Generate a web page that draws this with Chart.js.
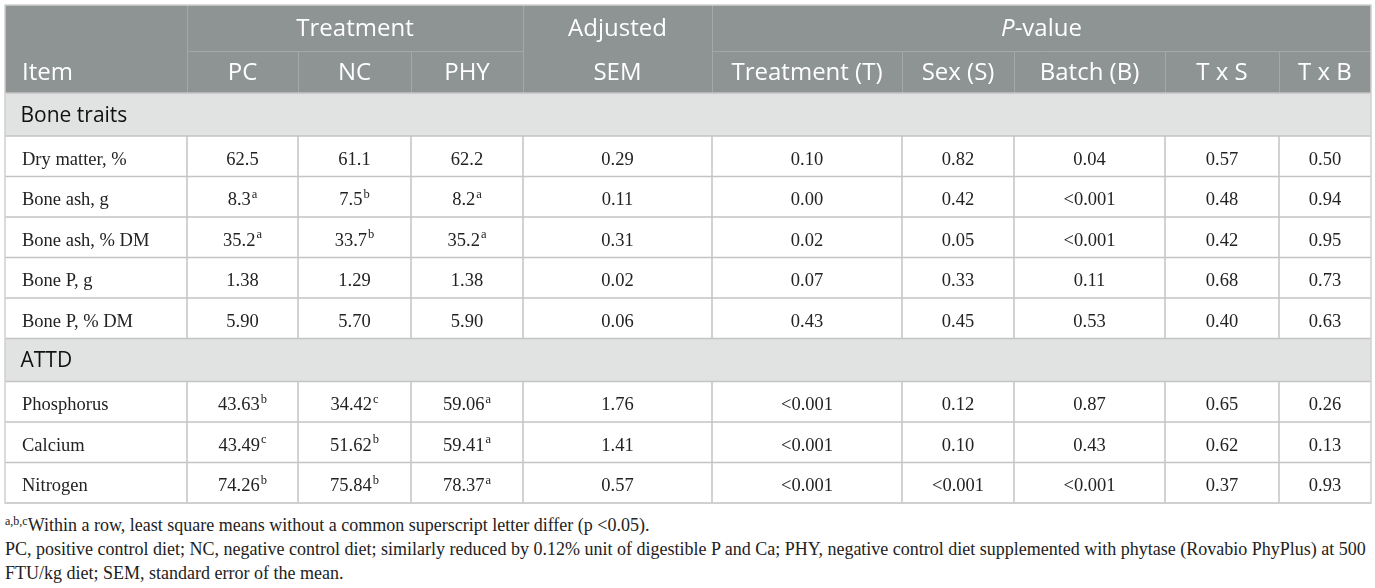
<!DOCTYPE html>
<html>
<head>
<meta charset="utf-8">
<script src="https://cdn.jsdelivr.net/npm/chart.js@4.4.1/dist/chart.umd.min.js"></script>
<style>
  html, body { margin: 0; padding: 0; background: #fff; }
  #wrap { position: relative; width: 1375px; height: 506px; }
  .notes { font-family: "Liberation Serif", serif; font-size: 18px; color: #222; margin: 7px 0 0 5px; line-height: 24px; white-space: nowrap; }
  .notes sup { font-size: 12px; vertical-align: 6px; line-height: 0; }
</style>
</head>
<body>
<div id="wrap"><canvas id="tableChart"></canvas></div>
<div class="notes">
  <div><sup>a,b,c</sup>Within a row, least square means without a common superscript letter differ (p &lt;0.05).</div>
  <div>PC, positive control diet; NC, negative control diet; similarly reduced by 0.12% unit of digestible P and Ca; PHY, negative control diet supplemented with phytase (Rovabio PhyPlus) at 500<br>FTU/kg diet; SEM, standard error of the mean.</div>
</div>
<script>
// table data
const groups = ['Bone traits', 'ATTD'];
const itemGroup = [0, 0, 0, 0, 0, 1, 1, 1];
const items = ['Dry matter, %', 'Bone ash, g', 'Bone ash, % DM', 'Bone P, g', 'Bone P, % DM', 'Phosphorus', 'Calcium', 'Nitrogen'];
const pc = ['62.5', '8.3', '35.2', '1.38', '5.90', '43.63', '43.49', '74.26'];
const pcSup = ['', 'a', 'a', '', '', 'b', 'c', 'b'];
const nc = ['61.1', '7.5', '33.7', '1.29', '5.70', '34.42', '51.62', '75.84'];
const ncSup = ['', 'b', 'b', '', '', 'c', 'b', 'b'];
const phy = ['62.2', '8.2', '35.2', '1.38', '5.90', '59.06', '59.41', '78.37'];
const phySup = ['', 'a', 'a', '', '', 'a', 'a', 'a'];
const sem = ['0.29', '0.11', '0.31', '0.02', '0.06', '1.76', '1.41', '0.57'];
const pTreat = ['0.10', '0.00', '0.02', '0.07', '0.43', '<0.001', '<0.001', '<0.001'];
const pSex = ['0.82', '0.42', '0.05', '0.33', '0.45', '0.12', '0.10', '<0.001'];
const pBatch = ['0.04', '<0.001', '<0.001', '0.11', '0.53', '0.87', '0.43', '<0.001'];
const pTxS = ['0.57', '0.48', '0.42', '0.68', '0.40', '0.65', '0.62', '0.37'];
const pTxB = ['0.50', '0.94', '0.95', '0.73', '0.63', '0.26', '0.13', '0.93'];

const colLabels = ['Item', 'PC', 'NC', 'PHY', 'SEM', 'Treatment (T)', 'Sex (S)', 'Batch (B)', 'T x S', 'T x B'];

// layout (not data)
const colWidths = [182, 111, 113, 112, 189, 190, 112, 151, 114, 92];
const rowHeight = { head1: 46, head2: 42, section: 43, data: 40.5 };
const HEAD_BG = '#8e9394', HEAD_LINE = '#a4a8a9', SECTION_BG = '#e1e3e2', GRID = '#c4c4c4';
const SANS = '"Open Sans", sans-serif', SERIF = '"Liberation Serif", serif';

const colEdges = [0];
colWidths.forEach(w => colEdges.push(colEdges[colEdges.length - 1] + w));
const totalW = colEdges[colEdges.length - 1];

// build row list: two header rows, then section + data rows
const rows = [{ kind: 'head1' }, { kind: 'head2' }];
groups.forEach((g, gi) => {
  rows.push({ kind: 'section', label: g });
  items.forEach((it, i) => { if (itemGroup[i] === gi) rows.push({ kind: 'data', idx: i }); });
});
let acc = 0;
rows.forEach(r => { r.top = acc; acc += rowHeight[r.kind]; r.bottom = acc; r.mid = (r.top + r.bottom) / 2; });
const totalH = acc;

const columns = [
  { text: items, sup: null },
  { text: pc, sup: pcSup },
  { text: nc, sup: ncSup },
  { text: phy, sup: phySup },
  { text: sem, sup: null },
  { text: pTreat, sup: null },
  { text: pSex, sup: null },
  { text: pBatch, sup: null },
  { text: pTxS, sup: null },
  { text: pTxB, sup: null }
];

const dataRows = rows.filter(r => r.kind === 'data');
const datasets = columns.map((c, ci) => ({
  label: colLabels[ci],
  data: dataRows.map(r => ({
    x: ci === 0 ? colEdges[0] + 17 : (colEdges[ci] + colEdges[ci + 1]) / 2,
    y: r.mid,
    t: c.text[r.idx],
    s: c.sup ? c.sup[r.idx] : ''
  })),
  pointRadius: 0,
  showLine: false
}));

function drawWithSup(ctx, x, y, main, sup, align, font, supFont) {
  ctx.font = font;
  const w1 = ctx.measureText(main).width;
  ctx.font = supFont;
  const w2 = sup ? ctx.measureText(sup).width + 1 : 0;
  let start = align === 'left' ? x : x - (w1 + w2) / 2;
  ctx.textAlign = 'left';
  ctx.textBaseline = 'middle';
  ctx.font = font;
  ctx.fillText(main, start, y);
  if (sup) {
    ctx.font = supFont;
    ctx.fillText(sup, start + w1 + 1, y - 6);
  }
}

const tablePlugin = {
  id: 'tablePlugin',
  beforeDatasetsDraw(chart) {
    const { ctx, scales: { x, y } } = chart;
    const px = v => x.getPixelForValue(v);
    const py = v => y.getPixelForValue(v);
    const L = px(0), R = px(totalW);
    ctx.save();
    rows.forEach(r => {
      const t = py(r.top), b = py(r.bottom);
      if (r.kind === 'head1' || r.kind === 'head2') ctx.fillStyle = HEAD_BG;
      else if (r.kind === 'section') ctx.fillStyle = SECTION_BG;
      else ctx.fillStyle = '#fff';
      ctx.fillRect(L, t, R - L, b - t);
    });
    // header lines
    ctx.strokeStyle = HEAD_LINE;
    ctx.lineWidth = 1;
    const hTop = py(rows[0].top), hMid = py(rows[1].top), hBot = py(rows[1].bottom);
    ctx.beginPath();
    [1, 4, 5].forEach(ci => { ctx.moveTo(px(colEdges[ci]) + 0.5, hTop); ctx.lineTo(px(colEdges[ci]) + 0.5, hBot); });
    [2, 3, 6, 7, 8, 9].forEach(ci => { ctx.moveTo(px(colEdges[ci]) + 0.5, hMid); ctx.lineTo(px(colEdges[ci]) + 0.5, hBot); });
    ctx.moveTo(px(colEdges[1]), hMid + 0.5); ctx.lineTo(px(colEdges[4]), hMid + 0.5);
    ctx.moveTo(px(colEdges[5]), hMid + 0.5); ctx.lineTo(R, hMid + 0.5);
    ctx.stroke();
    // body grid
    ctx.strokeStyle = GRID;
    ctx.lineWidth = 1.5;
    ctx.beginPath();
    rows.slice(1).forEach(r => { ctx.moveTo(L, py(r.bottom)); ctx.lineTo(R, py(r.bottom)); });
    dataRows.forEach(r => {
      colEdges.slice(1, -1).forEach(e => { ctx.moveTo(px(e), py(r.top)); ctx.lineTo(px(e), py(r.bottom)); });
    });
    ctx.stroke();
    // outer frame
    ctx.strokeStyle = '#d0d0d0';
    ctx.lineWidth = 1.5;
    ctx.strokeRect(L, hTop, R - L, py(totalH) - hTop);
    ctx.restore();
  },
  afterDatasetsDraw(chart) {
    const { ctx, scales: { x, y } } = chart;
    const px = v => x.getPixelForValue(v);
    const py = v => y.getPixelForValue(v);
    const mid = (a, b) => (px(colEdges[a]) + px(colEdges[b])) / 2;
    const hFont = '24px ' + SANS;
    ctx.save();
    ctx.textBaseline = 'middle';
    ctx.fillStyle = '#fff';
    ctx.font = hFont;
    const y1 = py(rows[0].mid) + 1, y2 = py(rows[1].mid) + 1;
    ctx.textAlign = 'left';
    ctx.fillText(colLabels[0], px(17), y2);
    ctx.textAlign = 'center';
    ctx.fillText('Treatment', mid(1, 4), y1);
    ctx.fillText('Adjusted', mid(4, 5), y1);
    // P-value with italic P
    ctx.font = 'italic ' + hFont;
    const wP = ctx.measureText('P').width;
    ctx.font = hFont;
    const wRest = ctx.measureText('-value').width;
    const pStart = mid(5, 10) - (wP + wRest) / 2;
    ctx.textAlign = 'left';
    ctx.font = 'italic ' + hFont;
    ctx.fillText('P', pStart, y1);
    ctx.font = hFont;
    ctx.fillText('-value', pStart + wP, y1);
    ctx.textAlign = 'center';
    for (let ci = 1; ci < colLabels.length; ci++) ctx.fillText(colLabels[ci], mid(ci, ci + 1), y2);
    // section rows
    ctx.fillStyle = '#111';
    ctx.textAlign = 'left';
    ctx.font = '21px ' + SANS;
    rows.filter(r => r.kind === 'section').forEach(r => ctx.fillText(r.label, px(15.5), py(r.mid) + 1.5));
    // body cells from dataset points
    ctx.fillStyle = '#222';
    chart.data.datasets.forEach((ds, di) => {
      const meta = chart.getDatasetMeta(di);
      meta.data.forEach((el, i) => {
        const d = ds.data[i];
        drawWithSup(ctx, el.x, el.y + 3.5, d.t, d.s, di === 0 ? 'left' : 'center', '18.5px ' + SERIF, '12.5px ' + SERIF);
      });
    });
    ctx.restore();
  }
};

new Chart(document.getElementById('tableChart'), {
  type: 'scatter',
  data: { datasets },
  options: {
    responsive: true,
    maintainAspectRatio: false,
    animation: false,
    layout: { padding: { left: 5, top: 5, right: 4, bottom: 3 } },
    plugins: { legend: { display: false }, tooltip: { enabled: false } },
    scales: {
      x: { type: 'linear', min: 0, max: totalW, display: false },
      y: { type: 'linear', min: 0, max: totalH, reverse: true, display: false }
    }
  },
  plugins: [tablePlugin]
});
</script>
</body>
</html>
